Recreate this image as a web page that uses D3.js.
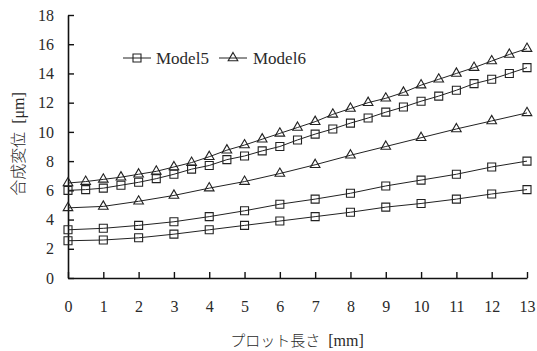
<!DOCTYPE html>
<html>
<head>
<meta charset="utf-8">
<script src="https://cdn.jsdelivr.net/npm/d3@7"></script>
<style>
  body { margin: 0; background: #fff; }
  text { font-family: "Liberation Serif", "DejaVu Serif", serif; fill: #2a2a2a; }
  .jp { font-family: "Noto Sans CJK JP", sans-serif; font-weight: 300; }
</style>
</head>
<body>
<div class="canvas"></div>
<script>
/* ----------- DATA ----------- */
// dense series sampled every 0.5 mm, sparse series every 1 mm
const xDense = d3.range(0, 13.01, 0.5);
const xSparse = d3.range(0, 14, 1);
const xTicks = d3.range(0, 14, 1);
const yTicks = d3.range(0, 19, 2);

const triDense = [6.5, 6.6, 6.75, 6.9, 7.1, 7.3, 7.6, 7.9, 8.3, 8.75, 9.1, 9.5, 9.9, 10.3,
  10.7, 11.2, 11.6, 12.0, 12.3, 12.7, 13.2, 13.6, 14.0, 14.4, 14.85, 15.3, 15.7];
const sqDense = [6.0, 6.05, 6.15, 6.35, 6.55, 6.8, 7.1, 7.45, 7.7, 8.1, 8.35, 8.7, 9.0, 9.45,
  9.85, 10.2, 10.6, 10.95, 11.35, 11.7, 12.1, 12.45, 12.85, 13.3, 13.6, 14.0, 14.4];
const triSparse = [4.8, 4.9, 5.25, 5.65, 6.15, 6.6, 7.15, 7.75, 8.4, 9.0, 9.6, 10.2, 10.75, 11.3];
const sqSparseA = [3.3, 3.4, 3.6, 3.85, 4.2, 4.6, 5.05, 5.4, 5.8, 6.3, 6.7, 7.1, 7.6, 8.0];
const sqSparseB = [2.55, 2.6, 2.75, 3.0, 3.3, 3.6, 3.9, 4.2, 4.5, 4.85, 5.1, 5.4, 5.75, 6.05];

const legendLabels = ['Model5', 'Model6'];

/* ----------- CONTAINER ----------- */
const svg = d3.select('.canvas')
  .append('svg')
  .attr('width', 537)
  .attr('height', 351);

/* ----------- SCALES & AXES ----------- */
const x = d3.scaleLinear().domain([0, 13]).range([68, 527]);
const y = d3.scaleLinear().domain([0, 18]).range([278, 15]);

const xAxis = d3.axisBottom(x)
  .tickValues(xTicks)
  .tickSizeInner(-6)
  .tickSizeOuter(0)
  .tickPadding(23);
const yAxis = d3.axisLeft(y)
  .tickValues(yTicks)
  .tickSizeInner(-6)
  .tickSizeOuter(0)
  .tickPadding(14);

const xAxisGroup = svg.append('g')
  .attr('transform', `translate(0,${y(0)})`)
  .call(xAxis);
const yAxisGroup = svg.append('g')
  .attr('transform', `translate(${x(0)},0)`)
  .call(yAxis);

[xAxisGroup, yAxisGroup].forEach(g => {
  g.select('.domain').attr('stroke', '#111').attr('stroke-width', 1.6);
  g.selectAll('.tick line').attr('stroke', '#111').attr('stroke-width', 1.4);
  g.selectAll('.tick text')
    .attr('font-size', 16);
});

/* ----------- SERIES ----------- */
const line = d3.line()
  .x(d => x(d[0]))
  .y(d => y(d[1]));

const series = [
  { xs: xDense, ys: triDense, sym: d3.symbolTriangle },
  { xs: xSparse, ys: triSparse, sym: d3.symbolTriangle },
  { xs: xDense, ys: sqDense, sym: d3.symbolSquare },
  { xs: xSparse, ys: sqSparseA, sym: d3.symbolSquare },
  { xs: xSparse, ys: sqSparseB, sym: d3.symbolSquare }
];

const symSize = s => (s === d3.symbolSquare ? 64 : 40);

series.forEach(s => {
  const pts = s.xs.map((v, i) => [v, s.ys[i]]);
  svg.append('path')
    .datum(pts)
    .attr('d', line)
    .attr('fill', 'none')
    .attr('stroke', '#222')
    .attr('stroke-width', 1);

  svg.selectAll(null)
    .data(pts)
    .enter()
    .append('path')
    .attr('d', d3.symbol().type(s.sym).size(symSize(s.sym)))
    .attr('transform', d => `translate(${x(d[0])},${y(d[1])})`)
    .attr('fill', 'none')
    .attr('stroke', '#222')
    .attr('stroke-width', 1.1);
});

/* ----------- LEGEND ----------- */
const legend = svg.append('g').attr('transform', 'translate(0,58)');
const legendItems = [
  { cx: 137, tx: 156, sym: d3.symbolSquare },
  { cx: 233, tx: 253, sym: d3.symbolTriangle }
];
legendItems.forEach((d, i) => {
  legend.append('line')
    .attr('x1', d.cx - 14).attr('x2', d.cx + 14)
    .attr('y1', 0).attr('y2', 0)
    .attr('stroke', '#222');
  legend.append('path')
    .attr('d', d3.symbol().type(d.sym).size(symSize(d.sym)))
    .attr('transform', `translate(${d.cx},0)`)
    .attr('fill', 'none')
    .attr('stroke', '#222')
    .attr('stroke-width', 1.1);
  legend.append('text')
    .attr('x', d.tx)
    .attr('y', 5.5)
    .attr('font-size', 17)
    .text(legendLabels[i]);
});

/* ----------- AXIS TITLES ----------- */
const xTitle = svg.append('text')
  .attr('x', 297)
  .attr('y', 346)
  .attr('text-anchor', 'middle');
xTitle.append('tspan').attr('class', 'jp').attr('font-size', 15).text('プロット長さ');
xTitle.append('tspan').attr('font-size', 16).text('\u00a0 [mm]');

const yTitle = svg.append('text')
  .attr('transform', 'translate(24,144) rotate(-90)')
  .attr('text-anchor', 'middle');
yTitle.append('tspan').attr('class', 'jp').attr('font-size', 16).text('合成変位');
yTitle.append('tspan').attr('font-size', 16).text('\u00a0 [μm]');
</script>
</body>
</html>
